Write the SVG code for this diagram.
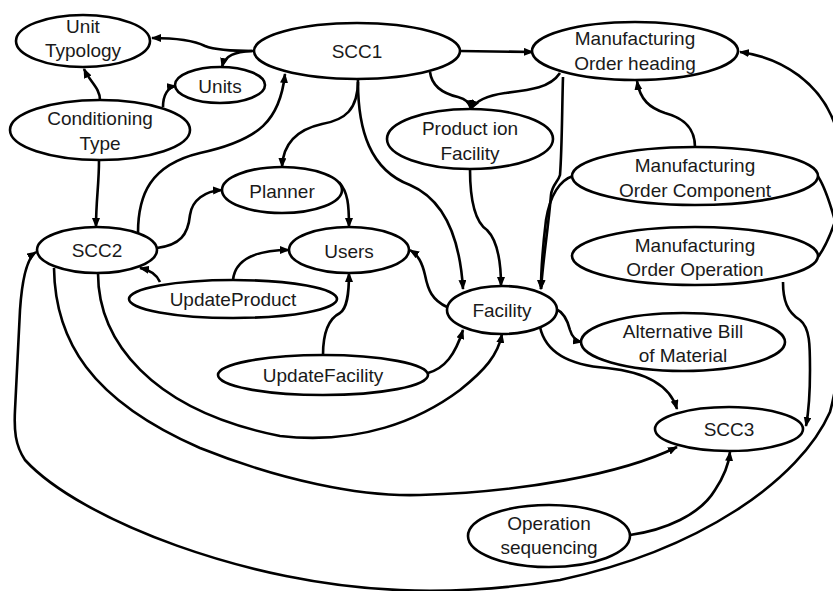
<svg xmlns="http://www.w3.org/2000/svg" width="833" height="591" viewBox="0 0 833 591">
<style>
.n{fill:#fff;stroke:#000;stroke-width:2.6}
.t{font-family:"Liberation Sans",Arial,sans-serif;font-size:19px;fill:#1a1a1a;text-anchor:middle}
.e{fill:none;stroke:#000;stroke-width:2.6}
.a{marker-end:url(#arr)}
</style>
<defs>
<marker id="arr" viewBox="0 0 10 8" refX="9" refY="4" markerWidth="10" markerHeight="8" markerUnits="userSpaceOnUse" orient="auto-start-reverse">
<path d="M0,0 L10,4 L0,8 z" fill="#000"/>
</marker>
</defs>
<rect width="833" height="591" fill="#fff"/>
<g id="connectors">
<path class="e a" d="M254,51 C230,51 215,50 205,46 C195,41 180,38 152,38"/>
<path class="e a" d="M252,51 C235,52 225,55 222,67"/>
<path class="e a" d="M100,100 C100,88 90,82 84,69"/>
<path class="e a" d="M163,107 C163,95 168,87 176,86"/>
<path class="e a" d="M99,160 C99,185 96,200 96,227"/>
<path class="e a" d="M138,233 C138,195 150,165 200,153 C260,140 280,120 285,74"/>
<path class="e a" d="M157,248 C180,245 188,235 190,215 C192,200 205,191 222,190"/>
<path class="e a" d="M358,80 C358,110 345,120 322,124 C295,130 283,145 282,167"/>
<path class="e a" d="M339,182 C348,192 349,205 349,227"/>
<path class="e a" d="M233,280 C235,260 255,250 289,250"/>
<path class="e a" d="M160,282 C157,275 150,270 140,268"/>
<path class="e a" d="M323,355 C323,330 330,318 340,313 C347,308 349,295 349,273"/>
<path class="e a" d="M447,307 C432,300 428,290 425,275 C422,262 418,255 410,250"/>
<path class="e a" d="M428,373 C445,368 455,355 463,330"/>
<path class="e a" d="M98,273 C98,340 150,410 280,436 C360,445 420,420 460,390 C485,370 498,355 502,334"/>
<path class="e a" d="M54,268 C55,340 90,400 200,448 C280,480 360,497 420,495 C520,492 620,475 677,447"/>
<path class="e a" style="marker-start:url(#arr)" d="M740,52 C785,58 820,85 834,122 C840,140 842,170 842,200 L842,330 C840,360 836,390 830,412 C800,480 700,550 560,580 C500,590 440,592 400,590 C250,585 80,520 25,460 C15,445 14,430 15,410 L20,310 C22,280 27,258 36,252"/>
<path class="e" d="M817,175 C825,186 831,205 838,232"/>
<path class="e" d="M818,257 C826,246 832,232 838,212"/>
<path class="e a" d="M430,72 C432,88 445,94 458,97 C466,99 470,103 471,109"/>
<path class="e a" d="M560,73 C550,88 530,90 505,93 C485,96 475,102 471,109"/>
<path class="e a" d="M460,51 L533,52"/>
<path class="e a" d="M358,82 C358,130 370,170 410,185 C445,200 460,240 463,289"/>
<path class="e a" d="M470,169 C470,200 475,222 487,230 C497,240 501,260 501,286"/>
<path class="e a" d="M563,77 C562,110 562,150 560,175 C558,182 552,185 551,195 C548,230 543,260 541,289"/>
<path class="e a" d="M573,176 C560,180 550,195 546,220 C543,245 541,265 541,289"/>
<path class="e a" d="M695,147 C695,125 680,117 665,113 C650,108 640,100 637,81"/>
<path class="e a" d="M556,309 C565,313 568,322 570,330 C572,337 576,341 582,342"/>
<path class="e a" d="M540,327 C545,350 565,365 607,368 C645,372 670,385 677,409"/>
<path class="e a" d="M783,282 C783,300 787,312 800,320 C810,328 810,345 810,370 C810,395 809,410 806,426"/>
<path class="e a" d="M630,535 C665,530 700,515 715,490 C725,475 729,462 730,452"/>
</g>
<g id="unit-typology"><ellipse class="n" cx="83" cy="41" rx="67" ry="26"/><text class="t" x="83" y="33">Unit</text><text class="t" x="83" y="57">Typology</text></g>
<g id="scc1"><ellipse class="n" cx="357" cy="51" rx="103" ry="28"/><text class="t" x="357" y="58">SCC1</text></g>
<g id="units"><ellipse class="n" cx="220" cy="85" rx="45" ry="18"/><text class="t" x="220" y="93">Units</text></g>
<g id="conditioning-type"><ellipse class="n" cx="100" cy="130" rx="90" ry="30"/><text class="t" x="100" y="125">Conditioning</text><text class="t" x="100" y="150">Type</text></g>
<g id="planner"><ellipse class="n" cx="282" cy="190" rx="60" ry="23"/><text class="t" x="282" y="198">Planner</text></g>
<g id="scc2"><ellipse class="n" cx="97" cy="250" rx="60" ry="23"/><text class="t" x="97" y="257">SCC2</text></g>
<g id="users"><ellipse class="n" cx="349" cy="250" rx="60" ry="23"/><text class="t" x="349" y="258">Users</text></g>
<g id="update-product"><ellipse class="n" cx="233" cy="299" rx="104" ry="19"/><text class="t" x="233" y="306">UpdateProduct</text></g>
<g id="update-facility"><ellipse class="n" cx="323" cy="375" rx="105" ry="20"/><text class="t" x="323" y="382">UpdateFacility</text></g>
<g id="facility"><ellipse class="n" cx="502" cy="310" rx="55" ry="24"/><text class="t" x="502" y="317">Facility</text></g>
<g id="production-facility"><ellipse class="n" cx="470" cy="139" rx="83" ry="30"/><text class="t" x="470" y="135">Product ion</text><text class="t" x="470" y="160">Facility</text></g>
<g id="mo-heading"><ellipse class="n" cx="635" cy="51" rx="103" ry="29"/><text class="t" x="635" y="45">Manufacturing</text><text class="t" x="635" y="70">Order heading</text></g>
<g id="mo-component"><ellipse class="n" cx="695" cy="176" rx="123" ry="29"/><text class="t" x="695" y="172">Manufacturing</text><text class="t" x="695" y="197">Order Component</text></g>
<g id="mo-operation"><ellipse class="n" cx="695" cy="256" rx="123" ry="29"/><text class="t" x="695" y="252">Manufacturing</text><text class="t" x="695" y="276">Order Operation</text></g>
<g id="alt-bom"><ellipse class="n" cx="683" cy="342" rx="102" ry="29"/><text class="t" x="683" y="338">Alternative Bill</text><text class="t" x="683" y="362">of Material</text></g>
<g id="scc3"><ellipse class="n" cx="729" cy="429" rx="74" ry="22"/><text class="t" x="729" y="436">SCC3</text></g>
<g id="operation-sequencing"><ellipse class="n" cx="549" cy="536" rx="81" ry="31"/><text class="t" x="549" y="530">Operation</text><text class="t" x="549" y="554">sequencing</text></g>
</svg>
